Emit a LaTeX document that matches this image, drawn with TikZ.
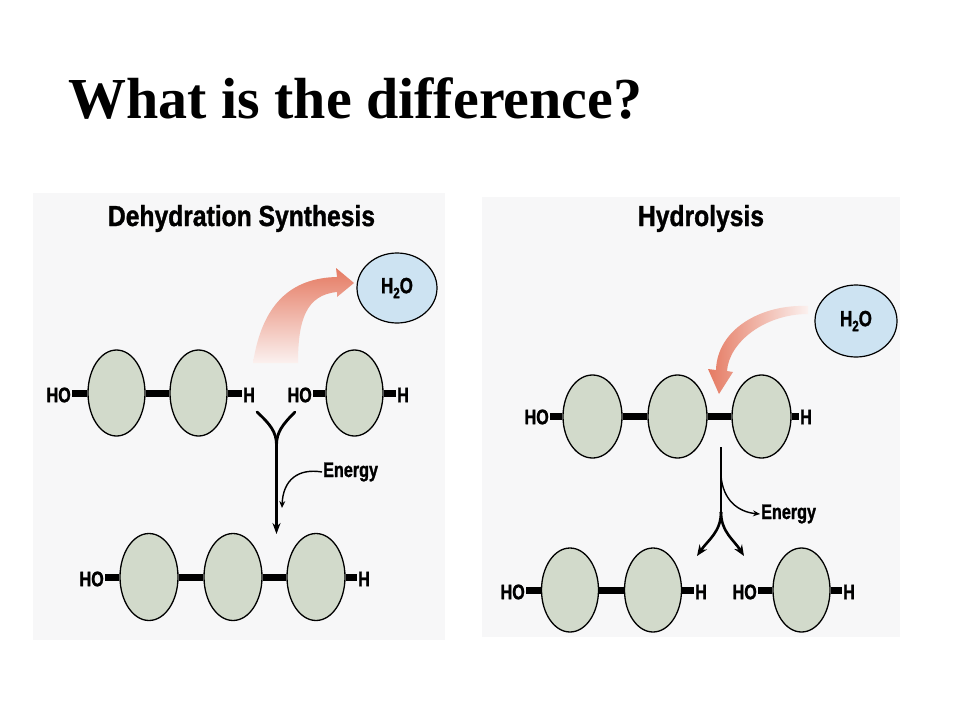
\documentclass[tikz,border=0pt]{standalone}
\usepackage{fontspec}
\setmainfont{Liberation Serif}
\newfontfamily\cond[FakeStretch=0.77,FakeBold=1.2]{Liberation Sans}
\newfontfamily\condT[FakeStretch=0.85,FakeBold=1.2]{Liberation Sans}
\usetikzlibrary{shapes.geometric,arrows.meta}
\definecolor{panelc}{HTML}{F7F7F8}
\definecolor{monoc}{HTML}{D2DACB}
\definecolor{waterc}{HTML}{CDE3F2}
\definecolor{salmon}{HTML}{E57A62}
\definecolor{faint}{HTML}{FBF1EF}
\begin{document}
\begin{tikzpicture}[x=1pt,y=-1pt,
  mono/.style={ellipse,draw=black,line width=1.3pt,fill=monoc,minimum width=57pt,minimum height=86pt,inner sep=0pt},
  water/.style={ellipse,draw=black,line width=1.2pt,fill=waterc,minimum width=80pt,minimum height=70pt,inner sep=0pt,font=\cond\bfseries\fontsize{22}{22}\selectfont},
  lbl/.style={inner sep=1pt,font=\cond\bfseries\fontsize{21}{21}\selectfont},
  ptitle/.style={anchor=base,inner sep=0pt,font=\condT\bfseries\fontsize{29}{30}\selectfont},
  bond/.style={line width=7pt},
  rarrow/.style={line width=2.6pt,-{Stealth[length=11pt,width=9pt]}},
  earrow/.style={line width=1.4pt,-{Stealth[length=7pt,width=6pt]}},
  panel/.style={fill=panelc}
]
\fill[white] (0,0) rectangle (960,720);
\useasboundingbox (0,0) rectangle (960,720);
\fill[panel] (33,193) rectangle (445,640);
\fill[panel] (482,197) rectangle (900,637);

\node[anchor=base west,inner sep=0pt,font=\bfseries\fontsize{58}{60}\selectfont] (title) at (68,118) {What is the difference?};

\node[ptitle] (t1) at (241.5,226) {Dehydration Synthesis};
\node[ptitle] (t2) at (701,226) {Hydrolysis};

% ---------- left panel ----------
\shade[top color=salmon, bottom color=faint]
  (253,363) .. controls (262,305) and (290,278) .. (337,277)
  -- (336,268) -- (354,283) -- (337,297) -- (337,292)
  .. controls (306,295) and (298,320) .. (298,363) -- cycle;
\node[water] (w1) at (397,288) {H\raisebox{-5pt}{\fontsize{15}{15}\selectfont 2}O};

\node[mono] (a1) at (116.5,393) {};
\node[mono] (a2) at (198.5,393) {};
\node[mono] (a3) at (354.5,393) {};
\node[lbl,anchor=east] (ha1) at (72,395) {HO};
\node[lbl,anchor=west] (hb1) at (242,395) {H};
\node[lbl,anchor=east] (ha2) at (313,395) {HO};
\node[lbl,anchor=west] (hb2) at (396,395) {H};
\draw[bond] (a1.west) -- (a1.west -| ha1.east);
\draw[bond] (a1.east) -- (a2.west);
\draw[bond] (a2.east) -- (a2.east -| hb1.west);
\draw[bond] (a3.west) -- (a3.west -| ha2.east);
\draw[bond] (a3.east) -- (a3.east -| hb2.west);

\coordinate (ya1) at (257,412);
\coordinate (ya2) at (295,412);
\coordinate (yj) at (276.5,445);
\coordinate (ytip) at (276.5,534);
\draw[line width=2.8pt,line cap=round] (ya1) .. controls (270,424) and (276.5,432) .. (yj);
\draw[line width=2.8pt,line cap=round] (ya2) .. controls (283,424) and (276.5,432) .. (yj);
\draw[line width=2.6pt,-{Stealth[length=11pt,width=8pt]}] (yj) -- (ytip);

\node[lbl,anchor=base west] (en1) at (322,477) {Energy};
\coordinate (et1) at (282,508);
\draw[earrow] (en1.west) .. controls (298,468) and (283,480) .. (et1);

\node[mono,minimum width=58pt,minimum height=87pt] (b1) at (149,577) {};
\node[mono,minimum width=58pt,minimum height=87pt] (b2) at (233,577) {};
\node[mono,minimum width=58pt,minimum height=87pt] (b3) at (316,577) {};
\node[lbl,anchor=east] (hc1) at (105,579) {HO};
\node[lbl,anchor=west] (hd1) at (357,579) {H};
\draw[bond] (b1.west) -- (b1.west -| hc1.east);
\draw[bond] (b1.east) -- (b2.west);
\draw[bond] (b2.east) -- (b3.west);
\draw[bond] (b3.east) -- (b3.east -| hd1.west);

% ---------- right panel ----------
\node[water,minimum width=82pt,minimum height=72pt] (w2) at (856,321) {H\raisebox{-5pt}{\fontsize{15}{15}\selectfont 2}O};
\shade[left color=salmon, right color=faint]
  (808,306) .. controls (760,304) and (717,330) .. (716,370)
  -- (708,369) -- (719,394) -- (733,372) -- (727,371)
  .. controls (729,342) and (765,314) .. (808,314) -- cycle;

\node[mono,minimum width=59pt,minimum height=83pt] (c1) at (592.5,416.5) {};
\node[mono,minimum width=59pt,minimum height=83pt] (c2) at (677.5,416.5) {};
\node[mono,minimum width=59pt,minimum height=83pt] (c3) at (761.5,416.5) {};
\node[lbl,anchor=east] (he1) at (550,417) {HO};
\node[lbl,anchor=west] (hf1) at (799,417) {H};
\draw[bond] (c1.west) -- (c1.west -| he1.east);
\draw[bond] (c1.east) -- (c2.west);
\draw[bond] (c2.east) -- (c3.west);
\draw[bond] (c3.east) -- (c3.east -| hf1.west);

\coordinate (rs) at (721,447);
\coordinate (rj) at (721,512);
\coordinate (rl) at (697,556);
\coordinate (rr) at (744,556);
\coordinate (rb) at (721,476);
\draw[line width=2.6pt] (rs) -- (rj);
\draw[rarrow] (rj) .. controls (721,532) and (708,540) .. (rl);
\draw[rarrow] (rj) .. controls (721,532) and (734,540) .. (rr);
\node[lbl,anchor=base west] (en2) at (760,519) {Energy};
\draw[earrow] (rb) .. controls (723,500) and (738,512) .. (en2.west);

\node[mono,minimum width=57pt,minimum height=84pt] (d1) at (570,590) {};
\node[mono,minimum width=57pt,minimum height=84pt] (d2) at (653,590) {};
\node[mono,minimum width=57pt,minimum height=84pt] (d3) at (801.5,590) {};
\node[lbl,anchor=east] (hg1) at (526,592) {HO};
\node[lbl,anchor=west] (hh1) at (694,592) {H};
\node[lbl,anchor=east] (hg2) at (758,592) {HO};
\node[lbl,anchor=west] (hh2) at (842,592) {H};
\draw[bond] (d1.west) -- (d1.west -| hg1.east);
\draw[bond] (d1.east) -- (d2.west);
\draw[bond] (d2.east) -- (d2.east -| hh1.west);
\draw[bond] (d3.west) -- (d3.west -| hg2.east);
\draw[bond] (d3.east) -- (d3.east -| hh2.west);
\end{tikzpicture}
\end{document}
